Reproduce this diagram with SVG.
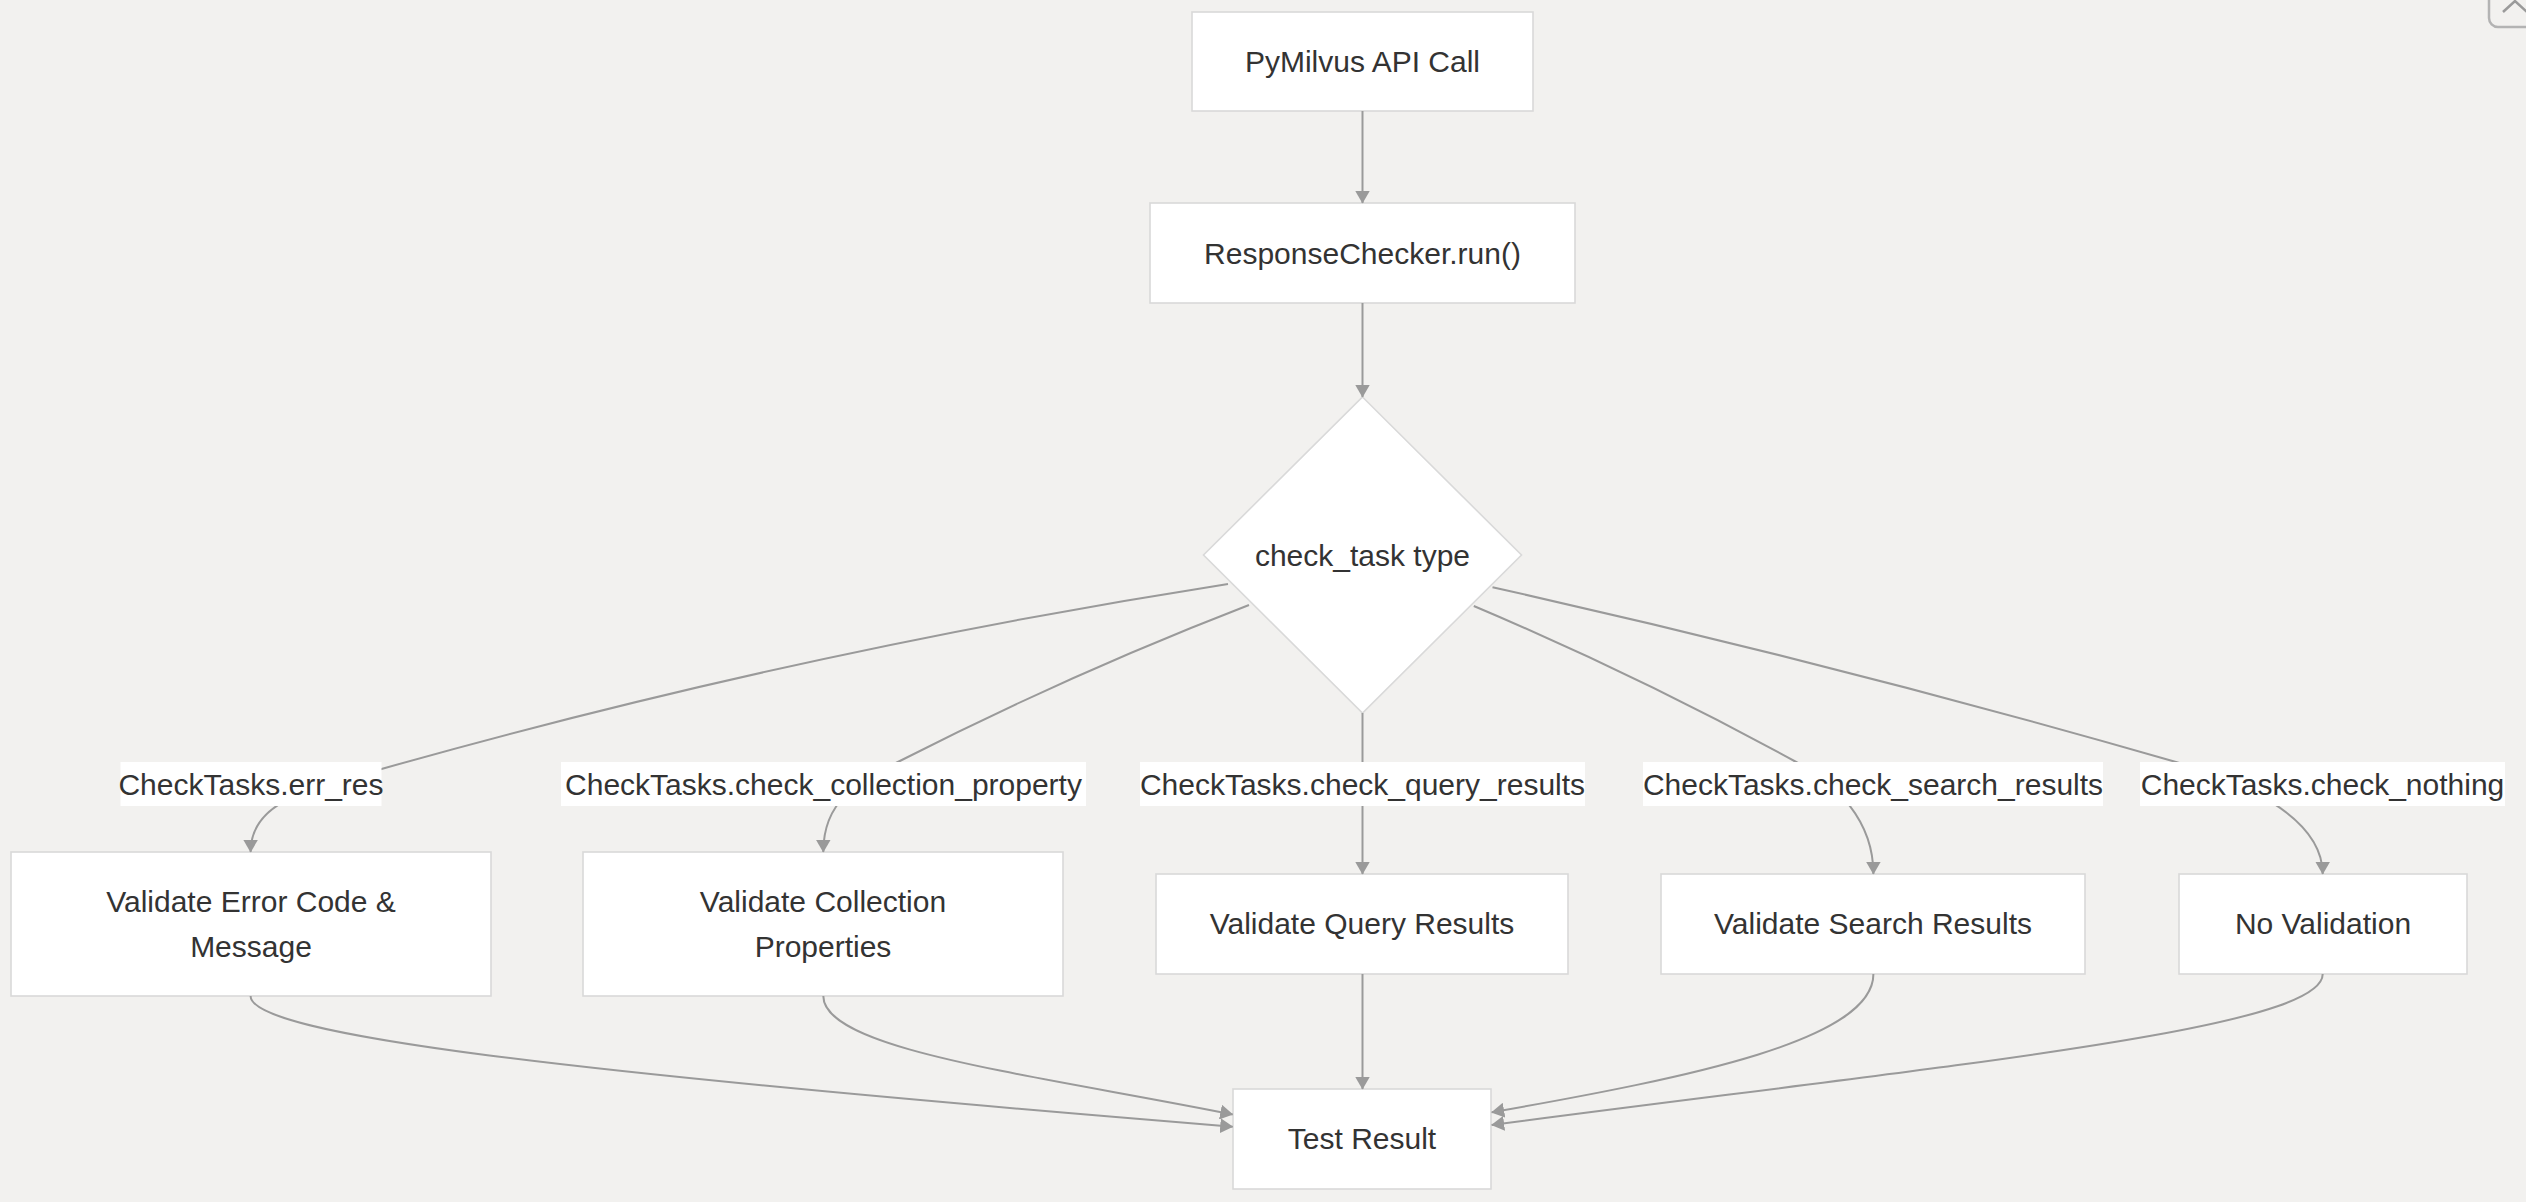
<svg xmlns="http://www.w3.org/2000/svg" width="2526" height="1202" viewBox="0 0 2526 1202">
<defs>
<style>
.node rect, .node polygon { fill: #ffffff; stroke: #d9d9d9; stroke-width: 1.6; }
.node text { font-family: "Liberation Sans", Arial, sans-serif; font-size: 30px; fill: #333333; text-anchor: middle; }
.edges path { fill: none; stroke: #9a9a9a; stroke-width: 2; marker-end: url(#arrow); }
.elabel rect { fill: #ffffff; stroke: none; }
.elabel text { font-family: "Liberation Sans", Arial, sans-serif; font-size: 30px; fill: #333333; text-anchor: middle; }
</style>
<marker id="arrow" viewBox="0 0 13 15" markerUnits="userSpaceOnUse" markerWidth="13" markerHeight="15" refX="12.5" refY="7.5" orient="auto">
<path d="M0,0 L13,7.5 L0,15 z" fill="#9a9a9a"/>
</marker>
</defs>
<rect x="0" y="0" width="2526" height="1202" fill="#f2f1ef"/>

<g id="nodes">
<g id="A" class="node"><rect x="1192" y="12" width="341" height="99"/><text x="1362.5" y="72">PyMilvus API Call</text></g>
<g id="B" class="node"><rect x="1150" y="203" width="425" height="100"/><text x="1362.5" y="264">ResponseChecker.run()</text></g>
<g id="C" class="node"><polygon points="1362.5,397 1521.5,555 1362.5,713 1203.5,555"/><text x="1362.5" y="566">check_task type</text></g>
<g id="D" class="node"><rect x="11" y="852" width="480" height="144"/><text x="251" y="912">Validate Error Code &amp;</text><text x="251" y="957">Message</text></g>
<g id="E" class="node"><rect x="583" y="852" width="480" height="144"/><text x="823" y="912">Validate Collection</text><text x="823" y="957">Properties</text></g>
<g id="F" class="node"><rect x="1156" y="874" width="412" height="100"/><text x="1362" y="934">Validate Query Results</text></g>
<g id="G" class="node"><rect x="1661" y="874" width="424" height="100"/><text x="1873" y="934">Validate Search Results</text></g>
<g id="H" class="node"><rect x="2179" y="874" width="288" height="100"/><text x="2323" y="934">No Validation</text></g>
<g id="I" class="node"><rect x="1233" y="1089" width="258" height="100"/><text x="1362" y="1149">Test Result</text></g>
</g>

<g id="connectors" class="edges">
<path d="M1362.5,111 L1362.5,203"/>
<path d="M1362.5,303 L1362.5,397"/>
<path d="M1228,584 Q799,651 381.5,769 C311.5,789 250.6,800 250.6,852"/>
<path d="M1249,605 Q1069.3,674.4 897.8,762 C857.8,782.4 823.3,800 823.3,852"/>
<path d="M1362.5,713 L1362.5,874"/>
<path d="M1473.8,606 Q1638.9,675.9 1796.2,762 C1836.2,783.9 1873.4,820 1873.4,874"/>
<path d="M1492.5,587.3 Q1836.9,664.2 2176,762 C2236,779.3 2322.7,815 2322.7,874"/>
<path d="M250.6,996 C250.6,1035 560,1072 1232.7,1126.7"/>
<path d="M823.3,996 C823.3,1050 1032.7,1074.5 1232.7,1114.5"/>
<path d="M1362.5,974 L1362.5,1089"/>
<path d="M1873.4,974 C1873.4,1040 1691.7,1077.1 1491.7,1112.3"/>
<path d="M2322.7,974 C2322.7,1030 1941.7,1065.6 1491.7,1125"/>
</g>

<g id="edge-labels" class="elabel">
<g><rect x="120.5" y="762" width="261" height="44"/><text x="251" y="794.5">CheckTasks.err_res</text></g>
<g><rect x="561" y="762" width="525" height="44"/><text x="823.5" y="794.5">CheckTasks.check_collection_property</text></g>
<g><rect x="1140" y="762" width="445" height="44"/><text x="1362.5" y="794.5">CheckTasks.check_query_results</text></g>
<g><rect x="1643" y="762" width="460" height="44"/><text x="1873" y="794.5">CheckTasks.check_search_results</text></g>
<g><rect x="2140" y="762" width="365" height="44"/><text x="2322.5" y="794.5">CheckTasks.check_nothing</text></g>
</g>

<g id="corner-control">
<rect x="2489" y="-20" width="60" height="47" rx="9" fill="none" stroke="#b3b3b3" stroke-width="2.5"/>
<polyline points="2503,12 2515,1 2527,12" fill="none" stroke="#9a9a9a" stroke-width="2.5"/>
</g>
</svg>
